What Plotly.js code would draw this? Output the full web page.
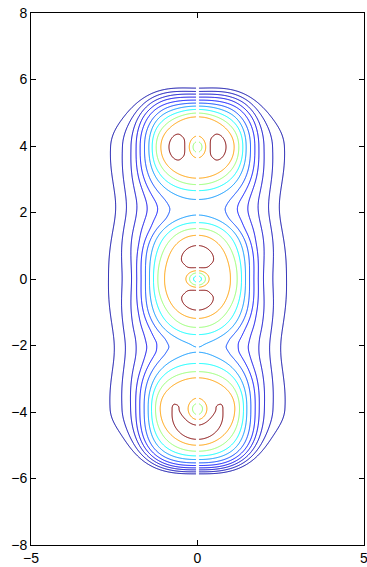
<!DOCTYPE html>
<html><head><meta charset="utf-8">
<script src="https://cdn.plot.ly/plotly-3.0.1.min.js"></script>
<style>html,body{margin:0;padding:0;background:#fff;} #chart{width:367px;height:567px;}</style>
</head><body><div id="chart"></div>
<script>
// contour levels and their colours
const LEVELS = [1,2,3,4,5,6,7,8,9,10,11];
const LEVEL_COLORS = ['rgb(0,0,165)','rgb(0,0,181)','rgb(0,0,201)','rgb(0,0,230)','rgb(0,14,255)',
  'rgb(0,69,255)','rgb(0,147,255)','rgb(0,253,255)','rgb(146,255,109)','rgb(255,158,0)','rgb(128,0,0)'];
const X_TICKS = [-5,0,5];
const Y_TICKS = [-8,-6,-4,-2,0,2,4,6,8];

// distance from each lobe centre at which levels 10,9,...,1 are met
const PROFILE_LEVELS = [10,9,8,7,6,5,4,3,2,1];
const TOP_SIDE_R = [1.10,1.24,1.36,1.46,1.59,1.72,1.84,1.99,2.24,2.59];
const TOP_UP_R   = [0.91,1.02,1.13,1.23,1.32,1.41,1.50,1.59,1.67,1.77];
const TOP_DOWN_R = [0.93,1.113,1.27,1.44,1.62,1.83,1.97,2.095,2.22,2.345];
const MID_SIDE_R = [0.99,1.19,1.32,1.44,1.56,1.69,1.82,1.97,2.24,2.64];
const MID_UP_R   = [1.30,1.49,1.64,1.778,1.907,2.068,2.2,2.325,2.45,2.575];
const MID_DOWN_R = [1.17,1.42,1.60,1.755,1.89,2.03,2.15,2.28,2.40,2.53];
const BOT_SIDE_R = [1.12,1.26,1.38,1.48,1.60,1.73,1.85,2.00,2.25,2.60];
const BOT_UP_R   = [0.92,1.092,1.30,1.485,1.66,1.84,1.97,2.10,2.22,2.35];
const BOT_DOWN_R = [1.10,1.28,1.42,1.53,1.63,1.71,1.78,1.84,1.90,1.96];

// lobes, top -> bottom
const LOBE_Y     = [3.97, 0.0, -3.9];
const CENTER_Z   = [8.6, 7.75, 8.6];
const P_SIDE     = [11.3, 10.5, 11.02];
const P_UP       = [10.4, 11.4, 10.4];
const P_DOWN     = [10.4, 11.4, 11.4];
const R0_SIDE    = [0.63, 0.65, 0.70];
const R0_UP      = [0.64, 0.65, 0.60];
const R0_DOWN    = [0.64, 0.65, 0.72];
const HOLE_WX    = [0.28, 0.287, 0.30];
const HOLE_WUP   = [0.28, 0.255, 0.27];
const HOLE_WDOWN = [0.28, 0.255, 0.38];
const HOLE_POW   = [2.5, 2.7, 2.5];
const PEXP_UP    = [2.7, 2.5, 2.5];
const PEXP_DOWN  = [2.5, 2.5, 2.7];

const STEP = 0.3285;
function makeProfile(R, Z){
  const n=R.length, d=[], m=new Array(n);
  for(let k=0;k<n-1;k++) d.push((Z[k+1]-Z[k])/(R[k+1]-R[k]));
  m[0]=d[0]; m[n-1]=d[n-2];
  for(let k=1;k<n-1;k++){
    const h0=R[k]-R[k-1], h1=R[k+1]-R[k];
    if(d[k-1]*d[k]<=0){ m[k]=0; continue; }
    const w1=2*h1+h0, w2=h1+2*h0;
    m[k]=(w1+w2)/(w1/d[k-1]+w2/d[k]);
  }
  return function(x){
    if(x>=R[n-1]) return Z[n-1]+d[n-2]*(x-R[n-1]);
    if(x<=R[0]) return Z[0]+d[0]*(x-R[0]);
    let k=0; while(x>R[k+1]) k++;
    const h=R[k+1]-R[k], t=(x-R[k])/h, t2=t*t, t3=t2*t;
    return (2*t3-3*t2+1)*Z[k] + (t3-2*t2+t)*h*m[k] + (-2*t3+3*t2)*Z[k+1] + (t3-t2)*h*m[k+1];
  };
}
const TABLES = [[TOP_SIDE_R,TOP_UP_R,TOP_DOWN_R],[MID_SIDE_R,MID_UP_R,MID_DOWN_R],[BOT_SIDE_R,BOT_UP_R,BOT_DOWN_R]];
const PROFILES = TABLES.map(row=>row.map(R=>({f:makeProfile(R,PROFILE_LEVELS), r10:R[0]})));

function dirZ(pr, P, r0, rho){
  if(rho>=pr.r10) return pr.f(rho);
  const t=Math.max(0,rho-r0)/(pr.r10-r0);
  return P-(P-10)*t*t;
}
function lobeZ(i,u,v){
  const r2=u*u+v*v, r=Math.sqrt(r2);
  const c2 = r2>1e-12 ? u*u/r2 : 1, s2=1-c2, up=v>0;
  let t=Math.min(1,Math.max(0,(r-1.0)/0.8)); t=t*t*(3-2*t);
  const p = 2 + ((up?PEXP_UP[i]:PEXP_DOWN[i])-2)*t;
  const au=Math.abs(u), av=Math.abs(v);
  const rho = r2>1e-12 ? Math.pow(Math.pow(au,p)+Math.pow(av,p),1/p) : 0;
  const Pv = up?P_UP[i]:P_DOWN[i];
  const zs = dirZ(PROFILES[i][0], P_SIDE[i], R0_SIDE[i], rho);
  const zv = dirZ(PROFILES[i][up?1:2], Pv, up?R0_UP[i]:R0_DOWN[i], rho);
  const P = P_SIDE[i]*c2 + Pv*s2;
  const hr = Math.sqrt((u/HOLE_WX[i])**2 + (v/(up?HOLE_WUP[i]:HOLE_WDOWN[i]))**2);
  return zs*c2 + zv*s2 - (P-CENTER_Z[i])*Math.exp(-Math.pow(hr,HOLE_POW[i]));
}
function field(x,y){
  let w=0;
  for(let i=0;i<LOBE_Y.length;i++) w += Math.exp(STEP*lobeZ(i,x,y-LOBE_Y[i]));
  return Math.log(w)/STEP;
}

const GAP = 0.04, DX = 0.02, XMAX = 3.4, YMAX = 6.6;
const xr = []; for(let x=GAP; x<=XMAX+1e-9; x+=DX) xr.push(+x.toFixed(4));
const ys = []; for(let y=-YMAX; y<=YMAX+1e-9; y+=DX) ys.push(+y.toFixed(4));
const xl = xr.map(v=>-v).reverse();
const zr = ys.map(y=>xr.map(x=>field(x,y)));
const zl = zr.map(row=>row.slice().reverse());

const cscale = LEVEL_COLORS.map((c,k)=>[k/(LEVELS.length-1), c]);
const base = {type:'contour', y:ys, contours:{coloring:'lines', start:LEVELS[0], end:LEVELS[LEVELS.length-1], size:1},
  line:{width:1}, colorscale:cscale, showscale:false, hoverinfo:'skip'};
const traces = [
  Object.assign({}, base, {x:xl, z:zl}),
  Object.assign({}, base, {x:xr, z:zr})
];
const axis = {showgrid:false, zeroline:false, showline:true, linecolor:'black', linewidth:1, mirror:'ticks',
  ticks:'inside', ticklen:5, tickcolor:'black', ticklabeloverflow:'allow',
  tickfont:{family:'Liberation Sans, Arial, sans-serif', size:14, color:'black'}};
const layout = {
  width:367, height:567, margin:{l:31,r:3,t:13,b:22}, paper_bgcolor:'white', plot_bgcolor:'white', showlegend:false,
  xaxis:Object.assign({}, axis, {range:[-5,5], tickmode:'array', tickvals:X_TICKS}),
  yaxis:Object.assign({}, axis, {range:[-8,8], tickmode:'array', tickvals:Y_TICKS})
};
Plotly.newPlot('chart', traces, layout, {displayModeBar:false, staticPlot:true});
</script></body></html>
